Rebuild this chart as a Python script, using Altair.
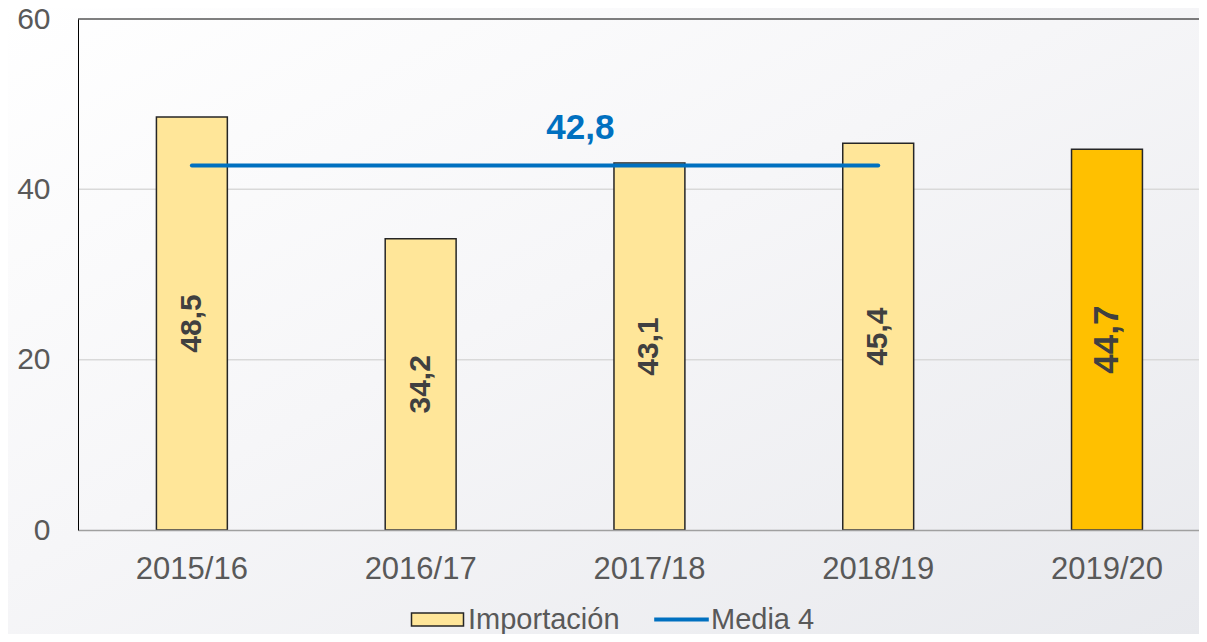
import altair as alt
import pandas as pd

# ---- data ----
years = ["2015/16", "2016/17", "2017/18", "2018/19", "2019/20"]
values = [48.5, 34.2, 43.1, 45.4, 44.7]
highlight_year = "2019/20"
mean_years = ["2015/16", "2016/17", "2017/18", "2018/19"]
mean_value = 42.8
series_bar = "Importación"
series_mean = "Media 4"
y_ticks = [0, 20, 40, 60]
grid_values = [20, 40]

def es(v):
    return f"{v:.1f}".replace(".", ",")

df_bars = pd.DataFrame({
    "year": years,
    "value": values,
    "half": [v / 2 for v in values],
    "label": [es(v) for v in values],
    "series": [series_bar] * len(years),
})
df_mean = pd.DataFrame({
    "year": mean_years,
    "value": [mean_value] * len(mean_years),
    "mseries": [series_mean] * len(mean_years),
})
df_mean_label = pd.DataFrame({"year": ["2017/18"], "value": [mean_value], "label": [es(mean_value)]})
df_grid = pd.DataFrame({"value": grid_values})
df_top = pd.DataFrame({"value": [60]})
df_bg = pd.DataFrame({"k": [0]})

W, H = 1121, 511
PAD_B = 104
FONT = "Liberation Sans"
GRAY = "#595959"

xscale = alt.Scale(domain=years, paddingInner=0.69, paddingOuter=0.295, align=0.581)
yscale = alt.Scale(domain=[0, 60], nice=False)

x_axis = alt.Axis(title=None, labelAngle=0, labelFontSize=31, labelColor=GRAY,
                  labelFont=FONT, labelPadding=24, ticks=False, tickSize=0,
                  domainColor="#a0a0a0", domainWidth=1.5, grid=False, zindex=1)
y_axis = alt.Axis(title=None, values=y_ticks, labelFontSize=30, labelColor=GRAY,
                  labelFont=FONT, labelPadding=28, ticks=False, tickSize=0,
                  domainColor="#000000", domainWidth=1, grid=False, zindex=1)

def X():
    return alt.X("year:N", scale=xscale, sort=years, axis=x_axis)

def Y(field="value:Q"):
    return alt.Y(field, scale=yscale, axis=y_axis)

legend_bar = alt.Legend(
    title=None, orient="none", direction="horizontal", legendX=345, legendY=586,
    labelFontSize=29, labelColor=GRAY, labelFont=FONT, symbolSize=169,
    symbolType="M-4,-1L4,-1L4,1L-4,1Z", symbolStrokeColor="#262626", symbolStrokeWidth=1.5,
    symbolOpacity=1, labelOffset=16, padding=0,
)
legend_line = alt.Legend(
    title=None, orient="none", direction="horizontal", legendX=589, legendY=586,
    labelFontSize=29, labelColor=GRAY, labelFont=FONT, symbolSize=169,
    symbolType="M-4.2,0L4.2,0", symbolStrokeWidth=4, symbolOpacity=1,
    labelOffset=15, padding=0,
)

bg = alt.Chart(df_bg).mark_rect(
    fill=alt.Gradient(gradient="linear", x1=0, y1=0, x2=1, y2=1,
                      stops=[alt.GradientStop(color="#ffffff", offset=0),
                             alt.GradientStop(color="#f6f6f8", offset=0.45),
                             alt.GradientStop(color="#e8e9ed", offset=1)]),
    clip=False,
).encode(x=alt.value(-70), x2=alt.value(W + 10), y=alt.value(-11), y2=alt.value(H + PAD_B))

grid = alt.Chart(df_grid).mark_rule(color="#d9d9d9", strokeWidth=1.5).encode(y=Y())

bars = alt.Chart(df_bars).mark_bar(stroke="#262626", strokeWidth=1.5).encode(
    x=X(), y=Y(),
    fill=alt.condition(alt.datum.year == highlight_year, alt.value("#ffc000"),
                       alt.Fill("series:N", scale=alt.Scale(domain=[series_bar], range=["#ffe699"]),
                                legend=legend_bar)),
)

line = alt.Chart(df_mean).mark_line(strokeWidth=4, strokeCap="round").encode(
    x=X(), y=Y(),
    stroke=alt.Stroke("mseries:N", scale=alt.Scale(domain=[series_mean], range=["#0070c0"]),
                      legend=legend_line),
)

bar_labels = alt.Chart(df_bars).mark_text(
    angle=270, font=FONT, fontWeight="bold", color="#404040", baseline="middle", align="center"
).encode(
    x=X(), y=Y("half:Q"),
    text="label:N",
    size=alt.condition(alt.datum.year == highlight_year, alt.value(35), alt.value(30)),
)

mean_label = alt.Chart(df_mean_label).mark_text(
    font=FONT, fontWeight="bold", fontSize=35, color="#0070c0", dx=-69, dy=-37,
    baseline="middle", align="center"
).encode(x=X(), y=Y(), text="label:N")

top = alt.Chart(df_top).mark_rule(color="#000000", strokeWidth=1).encode(y=Y())

chart = alt.layer(bg, grid, bars, line, bar_labels, mean_label, top).properties(
    width=W, height=H,
    autosize=alt.AutoSizeParams(type="none"),
    padding={"left": 70, "top": 11, "right": 0, "bottom": PAD_B},
).resolve_legend(fill="independent", stroke="independent").configure_view(
    stroke=None).configure(font=FONT, background="#ffffff")

chart.save("out.html", embed_options={"renderer": "svg", "actions": False})
